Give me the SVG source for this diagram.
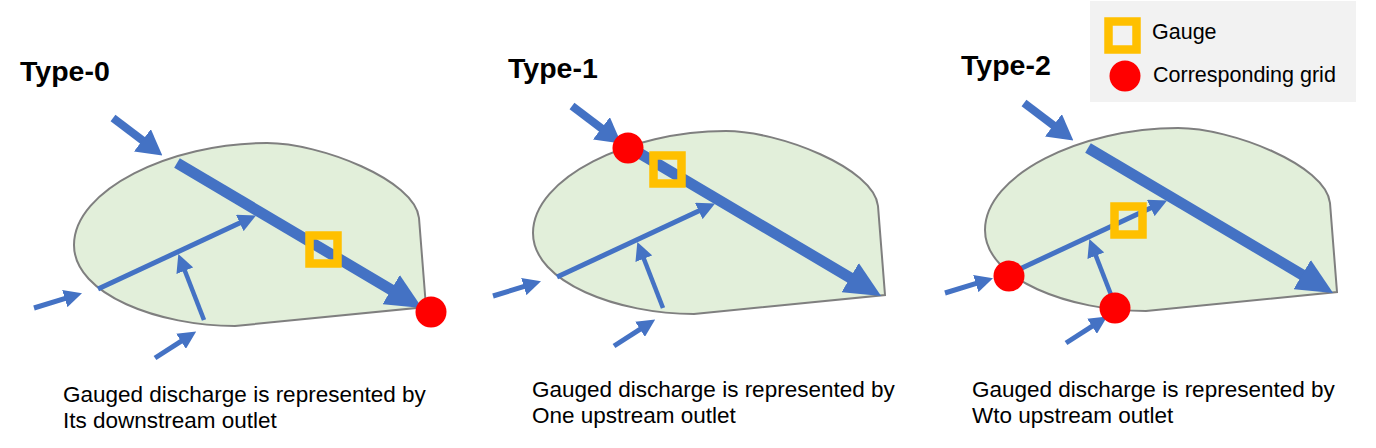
<svg xmlns="http://www.w3.org/2000/svg" width="1376" height="448" viewBox="0 0 1376 448">
<style>
.basin{fill:#E2EFDA;stroke:#7F7F7F;stroke-width:2}
.arr{stroke:#4472C4;fill:none;stroke-linecap:butt}
.gauge{fill:none;stroke:#FFC000;stroke-width:8.5}
.grid{fill:#FF0000}
.title{font-family:"Liberation Sans",Arial,sans-serif;font-weight:bold;font-size:28.5px;fill:#000}
.cap{font-family:"Liberation Sans",Arial,sans-serif;font-size:22.5px;fill:#000}
.leg{font-family:"Liberation Sans",Arial,sans-serif;font-size:21.5px;fill:#000}
</style>
<defs>
<marker id="headL" markerUnits="userSpaceOnUse" viewBox="0 0 36 34" markerWidth="36" markerHeight="34" refX="1" refY="17" orient="auto"><path d="M0,0 L36,17 L0,34 Z" fill="#4472C4"/></marker>
<marker id="headM" markerUnits="userSpaceOnUse" viewBox="0 0 25 28" markerWidth="25" markerHeight="28" refX="2" refY="14" orient="auto"><path d="M0,0 L25,14 L0,28 Z" fill="#4472C4"/></marker>
<marker id="headS" markerUnits="userSpaceOnUse" viewBox="0 0 18 18" markerWidth="18" markerHeight="18" refX="4" refY="9" orient="auto"><path d="M0,0 L18,9 L0,18 Z" fill="#4472C4"/></marker>
<path id="basinShape" d="M426,307 L419,218 C415,180 320,143 267,143 C170,143 74,190 74,245 C74,295 160,326 235,326 Z"/>
</defs>

<g id="legend">
<rect x="1090" y="1" width="266" height="101" fill="#F2F2F2"/>
<rect class="gauge" x="1108.5" y="21.5" width="28" height="28"/>
<circle class="grid" cx="1125" cy="76" r="15.5"/>
<text class="leg" x="1152" y="39">Gauge</text>
<text class="leg" x="1153" y="82">Corresponding grid</text>
</g>

<g id="type0">
<text class="title" x="20" y="81">Type-0</text>
<use href="#basinShape" class="basin"/>
<g id="connectors0">
<path class="arr" d="M113,118 L144,141.5" stroke-width="8" marker-end="url(#headM)"/>
<path class="arr" d="M177,163 L392,290.2" stroke-width="11" marker-end="url(#headL)"/>
<path class="arr" d="M98,289 L243.4,221.3" stroke-width="5" marker-end="url(#headS)"/>
<path class="arr" d="M204,320 L183.4,267" stroke-width="4.5" marker-end="url(#headS)"/>
<path class="arr" d="M34,308 L68.6,297.4" stroke-width="5" marker-end="url(#headS)"/>
<path class="arr" d="M155,358 L184.4,339.1" stroke-width="5" marker-end="url(#headS)"/>
</g>
<rect id="gauge0" class="gauge" x="309.5" y="235.5" width="28" height="28"/>
<circle id="grid0" class="grid" cx="431" cy="312" r="15.5"/>
<text class="cap" x="63" y="402">Gauged discharge is represented by</text>
<text class="cap" x="63" y="428">Its downstream outlet</text>
</g>

<g id="type1">
<text class="title" x="508" y="78">Type-1</text>
<g transform="translate(459,-12)">
<use href="#basinShape" class="basin"/>
<g id="connectors1">
<path class="arr" d="M113,118 L144,141.5" stroke-width="8" marker-end="url(#headM)"/>
<path class="arr" d="M170,159 L392,290.2" stroke-width="11" marker-end="url(#headL)"/>
<path class="arr" d="M98,289 L243.4,221.3" stroke-width="5" marker-end="url(#headS)"/>
<path class="arr" d="M204,320 L183.4,267" stroke-width="4.5" marker-end="url(#headS)"/>
<path class="arr" d="M34,308 L68.6,297.4" stroke-width="5" marker-end="url(#headS)"/>
<path class="arr" d="M155,358 L184.4,339.1" stroke-width="5" marker-end="url(#headS)"/>
</g>
<rect id="gauge1" class="gauge" x="194.5" y="167.5" width="28" height="28"/>
<circle id="grid1" class="grid" cx="169" cy="160" r="15.5"/>
</g>
<text class="cap" x="532" y="397">Gauged discharge is represented by</text>
<text class="cap" x="532" y="423">One upstream outlet</text>
</g>

<g id="type2">
<text class="title" x="961" y="75">Type-2</text>
<g transform="translate(911,-15)">
<use href="#basinShape" class="basin"/>
<g id="connectors2">
<path class="arr" d="M113,118 L144,141.5" stroke-width="8" marker-end="url(#headM)"/>
<path class="arr" d="M177,163 L392,290.2" stroke-width="11" marker-end="url(#headL)"/>
<path class="arr" d="M98,289 L243.4,221.3" stroke-width="5" marker-end="url(#headS)"/>
<path class="arr" d="M204,320 L183.4,267" stroke-width="4.5" marker-end="url(#headS)"/>
<path class="arr" d="M34,308 L68.6,297.4" stroke-width="5" marker-end="url(#headS)"/>
<path class="arr" d="M155,358 L184.4,339.1" stroke-width="5" marker-end="url(#headS)"/>
</g>
<rect id="gauge2" class="gauge" x="203.5" y="221.5" width="28" height="28"/>
<circle id="grid2a" class="grid" cx="98" cy="291" r="15.5"/>
<circle id="grid2b" class="grid" cx="204" cy="323" r="15.5"/>
</g>
<text class="cap" x="972" y="397">Gauged discharge is represented by</text>
<text class="cap" x="972" y="423">Wto upstream outlet</text>
</g>
</svg>
